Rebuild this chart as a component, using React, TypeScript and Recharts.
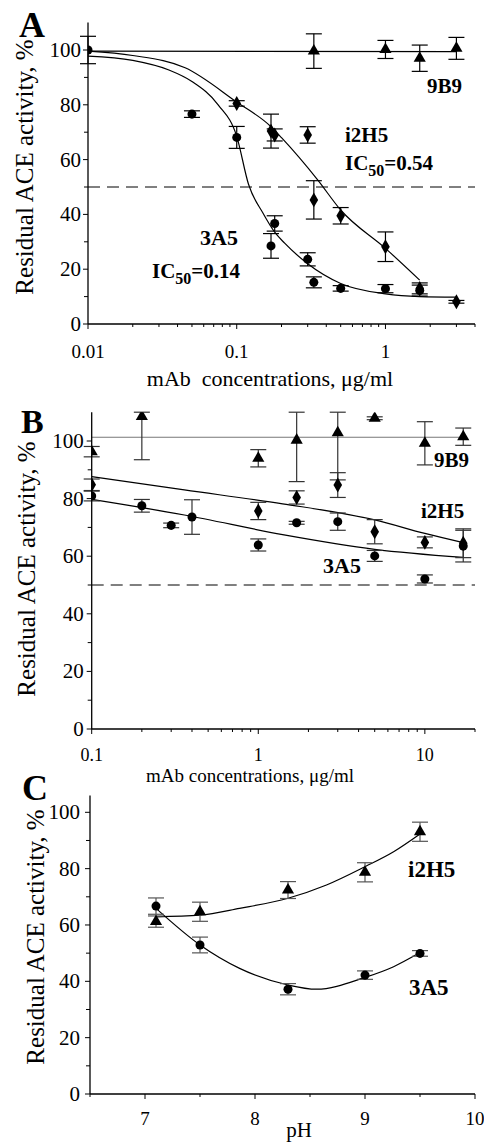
import React from 'react';
import {
  ComposedChart,
  Line,
  Scatter,
  XAxis,
  YAxis,
  ErrorBar,
  ReferenceLine,
} from 'recharts';

const FONT = 'Liberation Serif, Tinos, DejaVu Serif, Times New Roman, Times, serif';

// ---- Panel A: mAb concentration (log), residual activity ----
const A_3A5_X = [0.01, 0.05, 0.1, 0.17, 0.18, 0.3, 0.33, 0.5, 1.0, 1.7];
const A_3A5_Y = [100, 76.6, 68.1, 28.5, 36.7, 23.6, 15.2, 13, 12.9, 12.2];
const A_3A5_ERR = [5, 1.2, 4, 4.5, 2.8, 2.4, 2, 1, 1.5, 2];

const A_I2H5_X = [0.1, 0.17, 0.18, 0.3, 0.33, 0.5, 1.0, 1.7, 3.0];
const A_I2H5_Y = [80.5, 70.4, 69, 69, 45.3, 39.5, 28.2, 13, 8.1];
const A_I2H5_ERR = [1, 6.2, 2.2, 3, 7, 3, 5.4, 2, 0.5];

const A_9B9_X = [0.33, 1.0, 1.7, 3.0];
const A_9B9_Y = [99.6, 100.2, 97, 100.6];
const A_9B9_ERR = [6.3, 3.3, 4.8, 4];

// fitted curves
const A_FIT_3A5_X = [0.01, 0.02, 0.035, 0.05, 0.075, 0.1, 0.12, 0.15, 0.18, 0.21, 0.3, 0.5, 1, 1.7, 3];
const A_FIT_3A5_Y = [97.8, 96.2, 92.7, 88.5, 80, 68.5, 51, 40.5, 33.5, 29.5, 22, 14.8, 11, 10, 9.8];
const A_FIT_I2H5_X = [0.01, 0.02, 0.045, 0.1, 0.17, 0.2, 0.35, 0.5, 1, 1.7];
const A_FIT_I2H5_Y = [99.6, 98, 93.5, 81, 72, 68, 52.6, 41.6, 27.6, 16];
const A_FIT_9B9_X = [0.01, 3];
const A_FIT_9B9_Y = [99.6, 99.4];

const A_X_TICKS = [0.01, 0.02, 0.03, 0.04, 0.05, 0.06, 0.07, 0.08, 0.09, 0.1, 0.2, 0.3, 0.4, 0.5, 0.6, 0.7, 0.8, 0.9, 1, 2, 3, 4];
const A_X_MAJOR = [0.01, 0.1, 1];

// ---- Panel B ----
const B_9B9_X = [0.1, 0.2, 1.0, 1.7, 3.0, 5.0, 10, 17];
const B_9B9_Y = [96.3, 108.5, 94, 100.3, 102.9, 107.9, 99.2, 101.5];
const B_9B9_ERR: (number | number[])[] = [1.8, [15, 1.5], 3, [14.4, 9.7], [16.4, 7.1], 0.5, 7.5, 3];

const B_I2H5_X = [0.1, 1.0, 1.7, 3.0, 5.0, 10, 17];
const B_I2H5_Y = [84.8, 75.7, 80.4, 84.7, 68.5, 64.8, 64.5];
const B_I2H5_ERR = [2, 3, 2.3, 4.3, 4.2, 1.9, 5];

const B_3A5_X = [0.1, 0.2, 0.3, 0.4, 1.0, 1.7, 3.0, 5.0, 10, 17];
const B_3A5_Y = [80.9, 77.5, 70.7, 73.6, 63.9, 71.6, 72, 60.1, 52.1, 63.5];
const B_3A5_ERR = [1.7, 2.2, 0.8, 6, 2.1, 0.5, 3, 1.9, 1.4, 5.5];

const B_FIT_9B9_X = [0.1, 17];
const B_FIT_9B9_Y = [101.3, 101.3];
const B_FIT_I2H5_X = [0.1, 0.36, 1.4, 5, 10, 17];
const B_FIT_I2H5_Y = [87.6, 83, 78.2, 72.6, 67.9, 64.7];
const B_FIT_3A5_X = [0.1, 0.36, 1.4, 5, 17];
const B_FIT_3A5_Y = [79.7, 74.3, 67.5, 62.4, 59.6];

const B_X_TICKS = [0.1, 0.2, 0.3, 0.4, 0.5, 0.6, 0.7, 0.8, 0.9, 1, 2, 3, 4, 5, 6, 7, 8, 9, 10, 20];
const B_X_MAJOR = [0.1, 1, 10];

// ---- Panel C: pH ----
const C_PH = [7.1, 7.5, 8.3, 9.0, 9.5];
const C_I2H5_Y = [61.2, 64.7, 72.4, 78.7, 93.1];
const C_I2H5_ERR = [2, 3.4, 3, 3.4, 3.4];
const C_3A5_Y = [66.7, 52.9, 37.2, 42.2, 49.9];
const C_3A5_ERR = [2.9, 2.8, 2, 1.5, 1];

const C_FIT_I2H5_X = [7.1, 7.5, 7.86, 8.3, 8.65, 9.0, 9.26, 9.5];
const C_FIT_I2H5_Y = [62.9, 63.5, 65.9, 69.5, 74.2, 80.7, 86, 92.3];
const C_FIT_3A5_X = [7.1, 7.5, 7.86, 8.3, 8.56, 9.0, 9.26, 9.5];
const C_FIT_3A5_Y = [65.9, 52.9, 44.6, 38.7, 37.2, 41.4, 45.2, 50.2];

const C_X_TICKS = [6.5, 7, 7.5, 8, 8.5, 9, 9.5, 10];
const C_X_MAJOR = [7, 8, 9, 10];

const Y_TICKS = [0, 10, 20, 30, 40, 50, 60, 70, 80, 90, 100];
const Y_MAJOR = [0, 20, 40, 60, 80, 100];

const pts = (xs: number[], ys: number[], errs?: (number | number[])[]) =>
  xs.map((x, i) => ({ x, y: ys[i], err: errs ? errs[i] : 0 }));

const xTick = (major: number[], dy: number, size: number) => (props: any) => {
  const { x, y, payload } = props;
  const isMajor = major.includes(payload.value);
  return (
    <g>
      <line x1={x} x2={x} y1={y} y2={y + (isMajor ? 5 : 3)} stroke="#000" />
      {isMajor && (
        <text x={x} y={y + dy} textAnchor="middle" fontSize={size} fill="#000" style={{ fontFamily: FONT }}>
          {String(payload.value)}
        </text>
      )}
    </g>
  );
};

const yTick = (gap: number) => (props: any) => {
  const { x, y, payload } = props;
  const isMajor = Y_MAJOR.includes(payload.value);
  return (
    <g>
      <line x1={x - (isMajor ? 5 : 4)} x2={x} y1={y} y2={y} stroke="#000" />
      {isMajor && (
        <text x={x - gap} y={y + 7} textAnchor="end" fontSize={21} fill="#000" style={{ fontFamily: FONT }}>
          {payload.value}
        </text>
      )}
    </g>
  );
};

const fit = (xs: number[], ys: number[], color = '#000') => (
  <Line
    data={pts(xs, ys)}
    dataKey="y"
    type="monotone"
    stroke={color}
    strokeWidth={1.2}
    dot={false}
    activeDot={false}
    isAnimationActive={false}
  />
);

const marks = (
  data: { x: number; y: number; err: number | number[] }[],
  shape: 'circle' | 'triangle' | 'diamond',
  barColor = '#000'
) => (
  <Scatter data={data} dataKey="y" shape={shape} fill="#000" isAnimationActive={false}>
    <ErrorBar dataKey="err" direction="y" width={8} stroke={barColor} strokeWidth={1.2} />
  </Scatter>
);

const axisLine = { stroke: '#000', strokeWidth: 1.3 };

const PanelA = () => (
  <ComposedChart width={484} height={380} margin={{ top: 22.6, right: 9, bottom: 26, left: 48 }}>
    <XAxis
      dataKey="x"
      type="number"
      scale="log"
      domain={[0.01, 4]}
      ticks={A_X_TICKS}
      interval={0}
      allowDataOverflow
      height={30}
      tickSize={0}
      tickMargin={0}
      tickLine={false}
      axisLine={axisLine}
      tick={xTick(A_X_MAJOR, 34, 19)}
    />
    <YAxis
      type="number"
      domain={[0, 110]}
      ticks={Y_TICKS}
      interval={0}
      allowDataOverflow
      width={40}
      tickSize={0}
      tickMargin={0}
      tickLine={false}
      axisLine={axisLine}
      tick={yTick(7)}
    />
    <ReferenceLine y={50} stroke="#000" strokeDasharray="12 7" />
    {fit(A_FIT_9B9_X, A_FIT_9B9_Y)}
    {fit(A_FIT_I2H5_X, A_FIT_I2H5_Y)}
    {fit(A_FIT_3A5_X, A_FIT_3A5_Y)}
    {marks(pts(A_9B9_X, A_9B9_Y, A_9B9_ERR), 'triangle')}
    {marks(pts(A_I2H5_X, A_I2H5_Y, A_I2H5_ERR), 'diamond')}
    {marks(pts(A_3A5_X, A_3A5_Y, A_3A5_ERR), 'circle')}
  </ComposedChart>
);

const PanelB = () => (
  <ComposedChart width={484} height={390} margin={{ top: 32.2, right: 9, bottom: 11, left: 51.7 }}>
    <XAxis
      dataKey="x"
      type="number"
      scale="log"
      domain={[0.1, 20]}
      ticks={B_X_TICKS}
      interval={0}
      allowDataOverflow
      height={30}
      tickSize={0}
      tickMargin={0}
      tickLine={false}
      axisLine={axisLine}
      tick={xTick(B_X_MAJOR, 32, 18)}
    />
    <YAxis
      type="number"
      domain={[0, 110]}
      ticks={Y_TICKS}
      interval={0}
      allowDataOverflow
      width={40}
      tickSize={0}
      tickMargin={0}
      tickLine={false}
      axisLine={axisLine}
      tick={yTick(8)}
    />
    <ReferenceLine y={50} stroke="#000" strokeDasharray="12 7" />
    {fit(B_FIT_9B9_X, B_FIT_9B9_Y, '#777')}
    {fit(B_FIT_I2H5_X, B_FIT_I2H5_Y)}
    {fit(B_FIT_3A5_X, B_FIT_3A5_Y)}
    {marks(pts(B_9B9_X, B_9B9_Y, B_9B9_ERR), 'triangle', '#333')}
    {marks(pts(B_I2H5_X, B_I2H5_Y, B_I2H5_ERR), 'diamond', '#333')}
    {marks(pts(B_3A5_X, B_3A5_Y, B_3A5_ERR), 'circle', '#333')}
  </ComposedChart>
);

const PanelC = () => (
  <ComposedChart width={484} height={372} margin={{ top: 25.4, right: 9, bottom: 18, left: 50 }}>
    <XAxis
      dataKey="x"
      type="number"
      domain={[6.5, 10]}
      ticks={C_X_TICKS}
      interval={0}
      allowDataOverflow
      height={30}
      tickSize={0}
      tickMargin={0}
      tickLine={false}
      axisLine={axisLine}
      tick={xTick(C_X_MAJOR, 31, 19)}
    />
    <YAxis
      type="number"
      domain={[0, 106]}
      ticks={Y_TICKS}
      interval={0}
      allowDataOverflow
      width={40}
      tickSize={0}
      tickMargin={0}
      tickLine={false}
      axisLine={axisLine}
      tick={yTick(10)}
    />
    {fit(C_FIT_I2H5_X, C_FIT_I2H5_Y)}
    {fit(C_FIT_3A5_X, C_FIT_3A5_Y)}
    {marks(pts(C_PH, C_I2H5_Y, C_I2H5_ERR), 'triangle', '#555')}
    {marks(pts(C_PH, C_3A5_Y, C_3A5_ERR), 'circle', '#555')}
  </ComposedChart>
);

const Ic50 = ({ x, y, value }: { x: number; y: number; value: string }) => (
  <text x={x} y={y} fontSize={21} fontWeight="bold">
    IC
    <tspan fontSize={16} dy={6}>50</tspan>
    <tspan dy={-6}>={value}</tspan>
  </text>
);

const YLabel = ({ x, y }: { x: number; y: number }) => (
  <text transform={`translate(${x},${y}) rotate(-90)`} textAnchor="middle" fontSize={25}>
    Residual ACE activity, %
  </text>
);

const Annotations = () => (
  <svg width={484} height={1142} style={{ position: 'absolute', left: 0, top: 0, pointerEvents: 'none', fontFamily: FONT }}>
    <g fill="#000">
      {/* panel A */}
      <text x={19} y={37} fontSize={36} fontWeight="bold">A</text>
      <YLabel x={33} y={167} />
      <text x={270} y={386} textAnchor="middle" fontSize={22} style={{ whiteSpace: 'pre' }}>mAb  concentrations, μg/ml</text>
      <text x={427} y={93} fontSize={21} fontWeight="bold">9B9</text>
      <text x={345} y={142} fontSize={21} fontWeight="bold">i2H5</text>
      <Ic50 x={345} y={170} value="0.54" />
      <text x={200} y={245} fontSize={22} fontWeight="bold">3A5</text>
      <Ic50 x={152} y={278} value="0.14" />

      {/* panel B */}
      <text x={21} y={433} fontSize={34} fontWeight="bold">B</text>
      <YLabel x={35} y={569} />
      <text x={250} y={782} textAnchor="middle" fontSize={19}>mAb concentrations, μg/ml</text>
      <text x={434} y={467} fontSize={21} fontWeight="bold">9B9</text>
      <text x={421} y={518} fontSize={21} fontWeight="bold">i2H5</text>
      <text x={323} y={573} fontSize={22} fontWeight="bold">3A5</text>

      {/* panel C */}
      <text x={22} y={800} fontSize={36} fontWeight="bold">C</text>
      <YLabel x={44} y={937} />
      <text x={299} y={1137} textAnchor="middle" fontSize={21}>pH</text>
      <text x={408} y={877} fontSize={23} fontWeight="bold">i2H5</text>
      <text x={409} y={995} fontSize={23} fontWeight="bold">3A5</text>
    </g>
  </svg>
);

export default function App() {
  return (
    <div style={{ position: 'absolute', left: 0, top: 0, width: 484, height: 1142, background: '#fff', fontFamily: FONT }}>
      <div style={{ position: 'absolute', left: 0, top: 0 }}>
        <PanelA />
      </div>
      <div style={{ position: 'absolute', left: 0, top: 380 }}>
        <PanelB />
      </div>
      <div style={{ position: 'absolute', left: 0, top: 770 }}>
        <PanelC />
      </div>
      <Annotations />
    </div>
  );
}
